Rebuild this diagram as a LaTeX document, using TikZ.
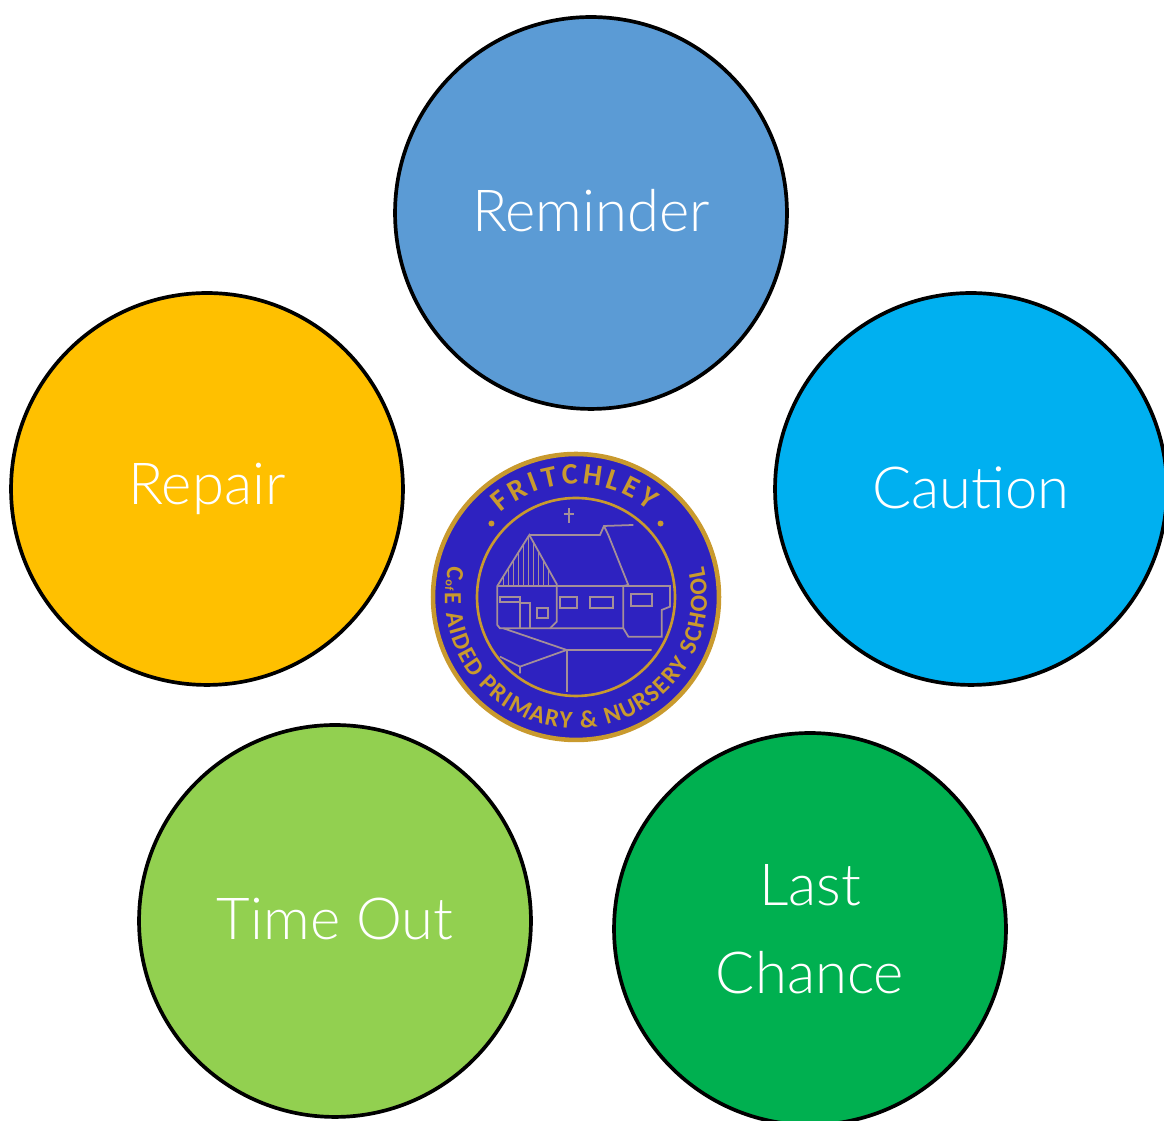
\documentclass[tikz,border=0pt]{standalone}
\usepackage{fontspec}
\setmainfont{Lato Light}
\newfontfamily\logofont{Carlito}
\usetikzlibrary{calc}
\definecolor{ReminderBlue}{HTML}{5B9BD5}
\definecolor{CautionBlue}{HTML}{00B0F0}
\definecolor{RepairGold}{HTML}{FFC000}
\definecolor{TimeGreen}{HTML}{92D050}
\definecolor{LastGreen}{HTML}{00B050}
\definecolor{LogoBlue}{HTML}{2E22C0}
\definecolor{LogoGold}{HTML}{C99A2E}
\definecolor{LogoLine}{HTML}{A58F98}
\tikzset{
    stage/.style={circle, draw=black, line width=2.1pt, minimum size=7.84cm, inner sep=0pt,
        text=white, align=center, font=\fontsize{33}{50}\selectfont},
    logoring/.style={draw=LogoGold, line width=1.5pt},
    logotext/.style={text=LogoGold, inner sep=0pt, anchor=base},
    house/.style={draw=LogoLine, line width=1pt},
}
\begin{document}
\begin{tikzpicture}[x=0.02cm, y=0.02cm]
    \useasboundingbox (0,0) rectangle (1164,1121);
    \clip (0,0) rectangle (1164,1121);

    % Stages
    \node[stage, fill=ReminderBlue] (reminder) at (591,908) {\raisebox{2.5pt}{Reminder}};
    \node[stage, fill=CautionBlue] (caution) at (971,632) {\raisebox{1.5pt}{Caution}};
    \node[stage, fill=RepairGold] (repair) at (207,632) {Repair};
    \node[stage, fill=TimeGreen] (timeout) at (335,200) {\raisebox{2.5pt}{Time Out}};
    \node[stage, fill=LastGreen] (lastchance) at (810,192) {Last\\Chance};

    % Badge
    \node[circle, fill=LogoBlue, draw=LogoGold, line width=2.6pt, minimum size=5.72cm] (logo) at (576,524) {};
    \draw[logoring] (logo.center) circle (99);
    % letter / width in em
    \foreach \c/\w [remember=\e as \s (initially 0)] in {F/.46, R/.56, I/.27, T/.50, C/.53, H/.63, L/.42, E/.49, Y/.52} {
        \pgfmathsetmacro{\a}{132-(\s+\w*8.5)*0.871}
        \pgfmathsetmacro{\e}{\s+\w*17+2.5}
        \node[logotext, font=\logofont\bfseries\fontsize{17}{17}\selectfont, rotate=\a-90] at ($(logo.center)+(\a:113)$) {\c};
    }
    \foreach \c/\w [remember=\e as \s (initially 0)] in {C/.53, {\fontsize{7}{7}\selectfont of}/.46, E/.49, {}/.25, A/.61, I/.27, D/.63, E/.49, D/.63, {}/.25,
        P/.53, R/.56, I/.27, M/.87, A/.61, R/.56, Y/.52, {}/.25, \&/.71, {}/.25,
        N/.66, U/.65, R/.56, S/.47, E/.49, R/.56, Y/.52, {}/.25, S/.47, C/.53, H/.63, O/.68, O/.68, L/.42} {
        \pgfmathsetmacro{\a}{166+(\s+\w*7)*0.772}
        \pgfmathsetmacro{\e}{\s+\w*14+0.8}
        \node[logotext, font=\logofont\bfseries\fontsize{14}{14}\selectfont, rotate=\a+90] at ($(logo.center)+(\a:131)$) {\c};
    }
    \fill[LogoGold] ($(logo.center)+(139:112)$) circle (3);
    \fill[LogoGold] ($(logo.center)+(41:112)$) circle (3);

    % House, traced in the zoomed frame of the badge
    \begin{scope}[shift={(420,681)}, x=0.00667cm, y=-0.00667cm]
        \draw[house, line width=0.7pt] (447,205) -- (447,250) (432,222) -- (462,222);
        \draw[house] (232,438) -- (328,285) -- (410,432) -- (410,545) -- (390,565) -- (240,565) -- (232,555) -- cycle;
        \draw[house] (232,438) -- (750,438) -- (750,500) -- (725,510) -- (725,590) -- (625,590) -- (610,565) -- (390,565);
        \draw[house] (328,285) -- (540,285) -- (552,258) -- (640,255);
        \draw[house] (552,258) -- (565,285) -- (625,435) -- (610,438) -- (610,565);
        \foreach \x/\y in {250/410, 265/385, 280/360, 295/335, 310/312, 325/290, 340/305, 355/332, 370/358, 385/385} {
            \draw[house, line width=0.7pt] (\x,\y) -- (\x,438);
        }
        \draw[house] (420,470) rectangle (470,505);
        \draw[house] (510,470) rectangle (580,505);
        \draw[house] (632,462) rectangle (695,498);
        \draw[house] (350,505) rectangle (385,535);
        \draw[house] (240,470) rectangle (300,485);
        \draw[house] (300,565) -- (300,490) -- (330,490) -- (330,565);
        \draw[house] (250,565) -- (440,630) -- (695,630);
        \draw[house] (440,630) -- (440,755);
        \draw[house] (440,630) -- (300,680) -- (300,700);
        \draw[house] (300,680) -- (240,650);
    \end{scope}
\end{tikzpicture}
\end{document}
